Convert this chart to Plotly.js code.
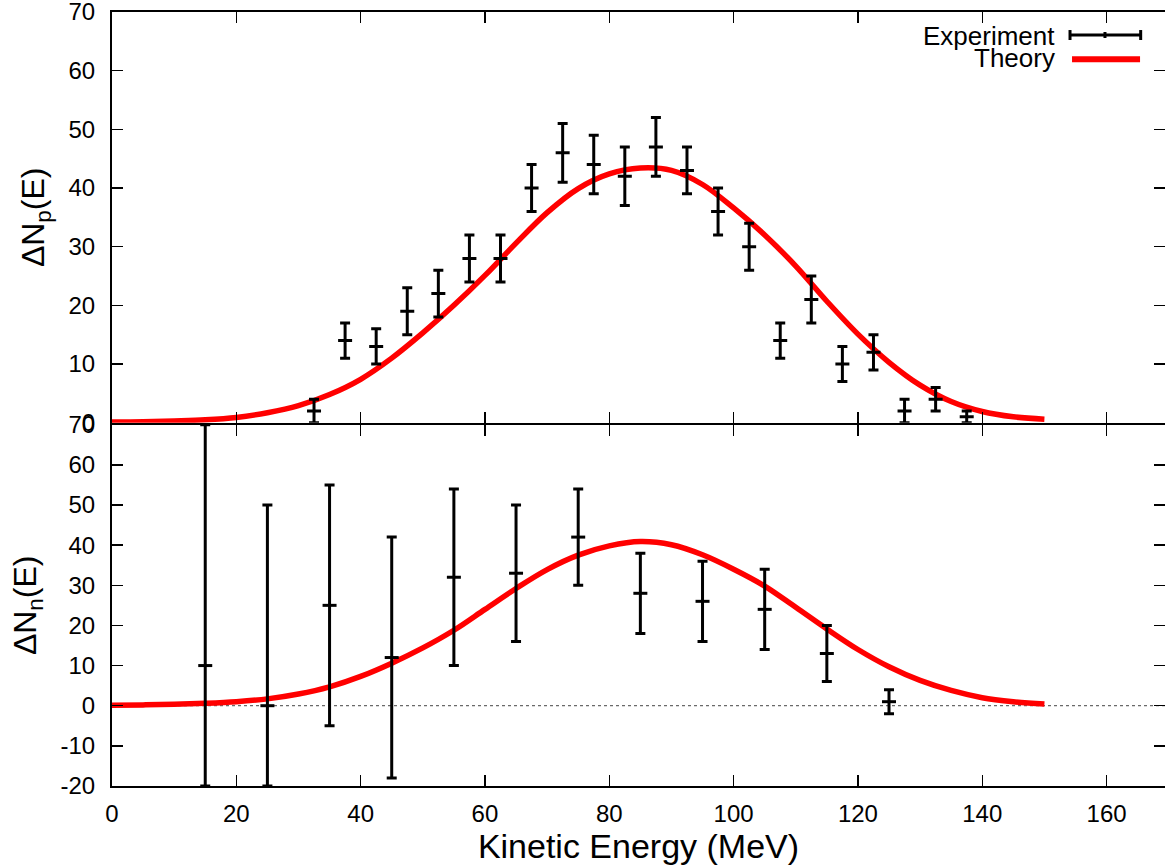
<!DOCTYPE html>
<html>
<head>
<meta charset="utf-8">
<script src="https://cdn.plot.ly/plotly-3.0.1.min.js"></script>
<style>html,body{margin:0;padding:0;background:#fff;}#chart{width:1165px;height:867px;}</style>
</head>
<body>
<div id="chart"></div>
<script>
// ---- Proton panel (top) : experiment ----
const protonE = [32.5, 37.5, 42.5, 47.5, 52.5, 57.5, 62.5, 67.5, 72.5, 77.5, 82.5, 87.5, 92.5, 97.5, 102.5, 107.5, 112.5, 117.5, 122.5, 127.5, 132.5, 137.5];
const protonN = [2, 14, 13, 19, 22, 28, 28, 40, 46, 44, 42, 47, 43, 36, 30, 14, 21, 10, 12, 2, 4, 1];
const protonErr = [2, 3, 3, 4, 4, 4, 4, 4, 5, 5, 5, 5, 4, 4, 4, 3, 4, 3, 3, 2, 2, 1];

// ---- Theory curves (both panels) ----
const theoryE = [0, 5, 10, 15, 20, 25, 30, 35, 40, 45, 50, 55, 60, 65, 70, 75, 80, 85, 90, 95, 100, 105, 110, 115, 120, 125, 130, 135, 140, 145, 150];
const protonTheory = [0.1, 0.15, 0.3, 0.5, 0.9, 1.7, 2.9, 4.8, 7.4, 11.0, 15.3, 20.0, 25.1, 30.6, 35.8, 39.9, 42.4, 43.4, 43.0, 40.6, 36.6, 32.0, 26.7, 20.7, 15.1, 10.3, 6.4, 3.6, 1.9, 1.0, 0.6];

// ---- Neutron panel (bottom) : experiment ----
const neutronE = [15, 25, 35, 45, 55, 65, 75, 85, 95, 105, 115, 125];
const neutronN = [10, 0, 25, 12, 32, 33, 42, 28, 26, 24, 13, 1];
const neutronErrPlus = [60, 50, 30, 30, 22, 17, 12, 10, 10, 10, 7, 3];
const neutronErrMinus = [30, 20, 30, 30, 22, 17, 12, 10, 10, 10, 7, 3];

// ---- Neutron panel (bottom) : theory ----
const neutronTheory = [0.1, 0.2, 0.35, 0.6, 1.0, 1.7, 2.9, 4.7, 7.3, 10.6, 14.4, 18.8, 24.0, 29.2, 33.9, 37.5, 39.8, 40.9, 40.1, 37.6, 34.0, 29.8, 24.5, 19.1, 14.0, 9.7, 6.3, 3.8, 2.0, 1.0, 0.4];

// ---- Ticks ----
const xTicks = [0, 20, 40, 60, 80, 100, 120, 140, 160];
const topYTicks = [0, 10, 20, 30, 40, 50, 60, 70];
const topYTickText = ['0', '10', '20', '30', '40', '50', '60', '70'];
const bottomYTicks = [-20, -10, 0, 10, 20, 30, 40, 50, 60, 70];
const bottomYTickText = ['-20', '-10', '0', '10', '20', '30', '40', '50', '60', '70'];

const FONT = 'Liberation Sans, Arial, Helvetica, sans-serif';
const RED = '#ff0000';

function expTrace(x, y, plus, minus, xa, ya) {
  return {
    type: 'scatter', mode: 'markers', x: x, y: y, xaxis: xa, yaxis: ya,
    name: 'Experiment', showlegend: false, cliponaxis: true,
    marker: {symbol: 'line-ew', size: 10, color: '#000', line: {color: '#000', width: 3}},
    error_y: {type: 'data', symmetric: minus === null, array: plus,
              arrayminus: minus === null ? undefined : minus,
              color: '#000', thickness: 3, width: 5}
  };
}
function theoryTrace(y, xa, ya) {
  return {
    type: 'scatter', mode: 'lines', x: theoryE, y: y, xaxis: xa, yaxis: ya,
    name: 'Theory', showlegend: false,
    line: {color: RED, width: 5.5, shape: 'spline', smoothing: 1}
  };
}

const data = [
  theoryTrace(protonTheory, 'x2', 'y2'),
  expTrace(protonE, protonN, protonErr, null, 'x2', 'y2'),
  theoryTrace(neutronTheory, 'x', 'y'),
  expTrace(neutronE, neutronN, neutronErrPlus, neutronErrMinus, 'x', 'y')
];

const axisCommon = {
  showline: true, linecolor: '#000', linewidth: 2, mirror: 'allticks',
  ticks: 'inside', ticklen: 11, tickwidth: 1.5, tickcolor: '#000',
  showgrid: false, zeroline: false, ticklabeloverflow: 'allow',
  tickfont: {family: FONT, size: 24, color: '#000'}
};

const split = 0.4694;
const gap = 2 / 774;
const layout = {
  width: 1165, height: 867,
  margin: {l: 112, r: 0, t: 12, b: 81},
  paper_bgcolor: '#fff', plot_bgcolor: '#fff',
  showlegend: false,
  font: {family: FONT, color: '#000'},
  xaxis: Object.assign({}, axisCommon, {
    anchor: 'y', range: [0, 169.4], tickvals: xTicks, ticklabelstandoff: 5,
    title: {text: 'Kinetic Energy (MeV)', font: {family: FONT, size: 34, color: '#000'}, standoff: 6}
  }),
  yaxis: Object.assign({}, axisCommon, {
    anchor: 'x', domain: [0, split - gap], range: [-20, 70], tickvals: bottomYTicks, ticktext: bottomYTickText, ticklabelstandoff: 10,
    title: {text: 'ΔN<sub>n</sub>(E)', font: {family: FONT, size: 32, color: '#000'}, standoff: 14}
  }),
  xaxis2: Object.assign({}, axisCommon, {
    anchor: 'y2', matches: 'x', range: [0, 169.4], tickvals: xTicks, showticklabels: false
  }),
  yaxis2: Object.assign({}, axisCommon, {
    anchor: 'x2', domain: [split, 1], range: [0, 70], tickvals: topYTicks, ticktext: topYTickText, ticklabelstandoff: 10,
    title: {text: 'ΔN<sub>p</sub>(E)', font: {family: FONT, size: 32, color: '#000'}, standoff: 14}
  }),
  shapes: [
    // dotted zero reference line in the neutron panel
    {type: 'line', xref: 'paper', x0: 0, x1: 1, yref: 'y', y0: 0, y1: 0,
     line: {color: '#444', width: 1, dash: 'dot'}, layer: 'below'},
    // legend: experiment sample (horizontal error bar)
    {type: 'line', xref: 'paper', yref: 'paper', x0: 0.9098, x1: 0.9769, y0: 0.9703, y1: 0.9703, line: {color: '#000', width: 3}},
    {type: 'line', xref: 'paper', yref: 'paper', x0: 0.9098, x1: 0.9098, y0: 0.9638, y1: 0.9767, line: {color: '#000', width: 3}},
    {type: 'line', xref: 'paper', yref: 'paper', x0: 0.9769, x1: 0.9769, y0: 0.9638, y1: 0.9767, line: {color: '#000', width: 3}},
    {type: 'line', xref: 'paper', yref: 'paper', x0: 0.943, x1: 0.943, y0: 0.9664, y1: 0.9742, line: {color: '#000', width: 3}},
    // legend: theory sample
    {type: 'line', xref: 'paper', yref: 'paper', x0: 0.9117, x1: 0.9763, y0: 0.9389, y1: 0.9389, line: {color: RED, width: 6}}
  ],
  annotations: [
    {text: 'Experiment', xref: 'paper', yref: 'paper', x: 0.8974, y: 0.9690, xanchor: 'right', yanchor: 'middle',
     showarrow: false, font: {family: FONT, size: 26, color: '#000'}},
    {text: 'Theory', xref: 'paper', yref: 'paper', x: 0.8974, y: 0.9400, xanchor: 'right', yanchor: 'middle',
     showarrow: false, font: {family: FONT, size: 26, color: '#000'}}
  ]
};

Plotly.newPlot('chart', data, layout, {staticPlot: true, displayModeBar: false});
</script>
</body>
</html>
